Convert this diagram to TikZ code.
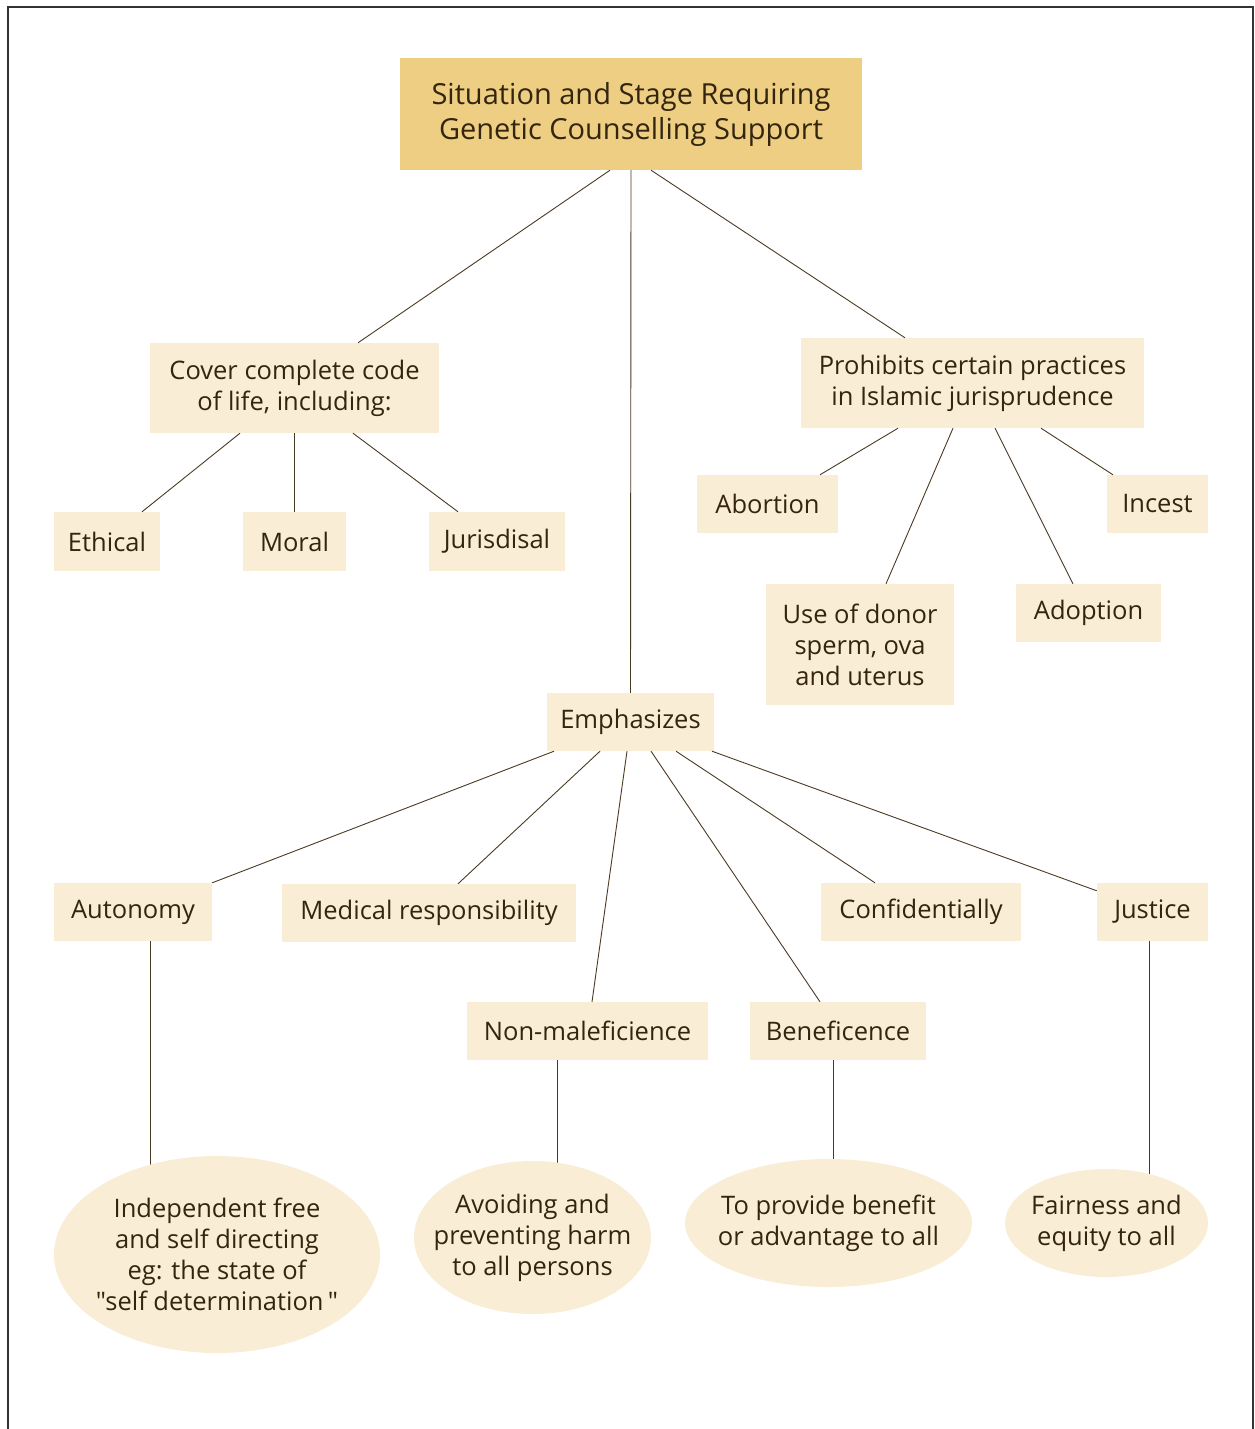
\documentclass[tikz,border=0pt]{standalone}
\usepackage{fontspec}
\setmainfont{Open Sans}[Ligatures=TeXOff]
\usetikzlibrary{shapes.geometric,backgrounds}

\definecolor{cream}{HTML}{F9EDD6}
\definecolor{gold}{HTML}{EDCE83}
\definecolor{ink}{HTML}{33250E}
\definecolor{wire}{HTML}{4A3A22}

\begin{document}
\begin{tikzpicture}[x=1pt,y=-1pt,
  box/.style 2 args={fill=cream,text=ink,align=center,inner sep=0pt,
    minimum width=#1pt,minimum height=#2pt,font=\fontsize{25.5}{31}\selectfont},
  head/.style={box={462}{112},fill=gold,font=\fontsize{29}{35}\selectfont},
  oval/.style 2 args={ellipse,fill=cream,inner sep=0pt,minimum width=#1pt,minimum height=#2pt},
  ovaltext/.style={text=ink,align=center,inner sep=0pt,font=\fontsize{25.5}{31}\selectfont},
  link/.style={draw=wire,line width=0.9pt}]
\useasboundingbox (0,0) rectangle (1255,1429);
\draw[black!80,line width=1.5pt] (8,1429) -- (8,7) -- (1253,7) -- (1253,1429);

\node[head] (situ) at (631,114) {Situation and Stage Requiring\\Genetic Counselling Support};

\node[box={289}{90}] (cover) at (294.5,388) {Cover complete code\\of life, including:};
\node[box={106}{59}] (ethic) at (107,541.5) {Ethical};
\node[box={103}{59}] (moral) at (294.5,541.5) {Moral};
\node[box={136}{59}] (juris) at (497,541.5) {Jurisdisal};

\node[box={343}{90}] (prohib) at (972.5,383) {Prohibits certain practices\\in Islamic jurisprudence};
\node[box={141}{58}] (abort) at (767.5,504) {Abortion};
\node[box={101}{58}] (incest) at (1157.5,504) {Incest};
\node[box={188}{121}] (donor) at (860,644.5) {Use of donor\\sperm, ova\\and uterus};
\node[box={145}{58}] (adopt) at (1088.5,613) {Adoption};

\node[box={167}{58}] (emph) at (630.5,722) {Emphasizes};
\node[box={158}{58}] (auton) at (133,912) {Autonomy};
\node[box={294}{58}] (medic) at (429,913) {Medical responsibility};
\node[box={200}{58}] (confid) at (921,912) {Confidentially};
\node[box={111}{58}] (justice) at (1152.5,912) {Justice};
\node[box={241}{58}] (nonmal) at (587.5,1031) {Non-maleficience};
\node[box={176}{58}] (benef) at (838,1031) {Beneficence};

\node[oval={326}{197}] (indep) at (217,1254.5) {};
\node[ovaltext] at (indep) {Independent free\\and self directing\\eg: the state of\\"self determination\,"};
\node[oval={237}{153}] (avoid) at (532.5,1237.5) {};
\node[ovaltext] at (avoid) {Avoiding and\\preventing harm\\to all persons};
\node[oval={287}{128}] (provide) at (828.5,1223) {};
\node[ovaltext] at (provide) {To provide benefit\\or advantage to all};
\node[oval={203}{108}] (fair) at (1106.5,1223) {};
\node[ovaltext] at (fair) {Fairness and\\equity to all};

% top level
\draw[link] ([xshift=-21pt]situ.south) -- ([xshift=63.5pt]cover.north);
\draw[link] ([xshift=20pt]situ.south) -- ([xshift=-67.5pt]prohib.north);
\draw[link] (situ.south) -- (emph.north);

\draw[link] ([xshift=-54.5pt]cover.south) -- ([xshift=35pt]ethic.north);
\draw[link] (cover.south) -- (moral.north);
\draw[link] ([xshift=58.5pt]cover.south) -- ([xshift=-39pt]juris.north);

\draw[link] ([xshift=-74.5pt]prohib.south) -- ([xshift=52.5pt]abort.north);
\draw[link] ([xshift=-19.5pt]prohib.south) -- ([xshift=26pt]donor.north);
\draw[link] ([xshift=22.5pt]prohib.south) -- ([xshift=-15.5pt]adopt.north);
\draw[link] ([xshift=68.5pt]prohib.south) -- ([xshift=-44.5pt]incest.north);

\draw[link] ([xshift=-76.5pt]emph.south) -- (auton.north east);
\draw[link] ([xshift=-30.5pt]emph.south) -- ([xshift=29pt]medic.north);
\draw[link] ([xshift=-3.5pt]emph.south) -- ([xshift=4.5pt]nonmal.north);
\draw[link] ([xshift=20.5pt]emph.south) -- ([xshift=-18pt]benef.north);
\draw[link] ([xshift=45.5pt]emph.south) -- ([xshift=-46pt]confid.north);
\draw[link] ([xshift=81.5pt]emph.south) -- ([yshift=-8pt]justice.north west);

\begin{scope}[on background layer]
\draw[link] ([xshift=17pt]auton.south) -- ([xshift=17pt]auton.south |- indep.center);
\draw[link] ([xshift=-30.5pt]nonmal.south) -- ([xshift=-30.5pt]nonmal.south |- avoid.center);
\draw[link] ([xshift=-5pt]benef.south) -- ([xshift=-5pt]benef.south |- provide.center);
\draw[link] ([xshift=-3.5pt]justice.south) -- ([xshift=-3.5pt]justice.south |- fair.center);
\end{scope}
\end{tikzpicture}
\end{document}
